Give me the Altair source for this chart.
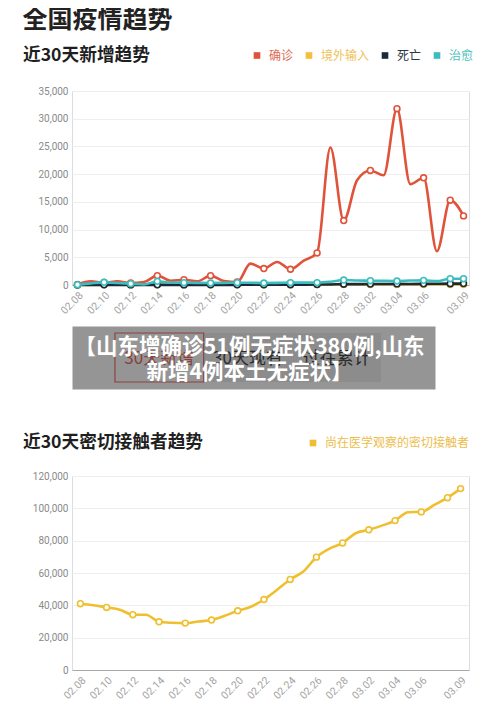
import altair as alt
import pandas as pd

main_title = "全国疫情趋势"
top_title = "近30天新增趋势"
bottom_title = "近30天密切接触者趋势"

dates = ["02.08", "02.09", "02.10", "02.11", "02.12", "02.13", "02.14", "02.15",
         "02.16", "02.17", "02.18", "02.19", "02.20", "02.21", "02.22", "02.23",
         "02.24", "02.25", "02.26", "02.27", "02.28", "03.01", "03.02", "03.03",
         "03.04", "03.05", "03.06", "03.07", "03.08", "03.09"]
tick_dates = ["02.08", "02.10", "02.12", "02.14", "02.16", "02.18", "02.20", "02.22",
              "02.24", "02.26", "02.28", "03.02", "03.04", "03.06", "03.09"]
marker_dates = ["02.08", "02.10", "02.12", "02.14", "02.16", "02.18", "02.20", "02.22",
                "02.24", "02.26", "02.28", "03.02", "03.04", "03.06", "03.08", "03.09"]

series_names = ["确诊", "境外输入", "死亡", "治愈"]
confirmed = [80, 660, 450, 660, 360, 540, 1690, 780, 960, 660, 1690, 720, 540, 3850, 2970,
             4160, 2840, 4400, 5780, 24800, 11630, 18900, 20660, 19800, 31800, 18200, 19340,
             6080, 15300, 12470]
imported = [20, 30, 30, 40, 30, 40, 50, 40, 40, 50, 40, 50, 60, 50, 60, 60, 50, 60, 70, 60,
            70, 80, 70, 80, 90, 80, 90, 100, 90, 100]
deaths = [0, 20, 30, 20, 20, 20, 30, 30, 20, 20, 30, 20, 30, 40, 40, 50, 50, 60, 80, 100,
          150, 160, 170, 180, 200, 190, 210, 220, 240, 250]
cured = [50, 300, 480, 350, 240, 100, 660, 450, 420, 380, 360, 380, 420, 400, 360, 380, 430,
         420, 430, 600, 900, 820, 780, 740, 720, 800, 840, 700, 1140, 1140]

contact_name = "尚在医学观察的密切接触者"
contacts = [41000, 40100, 38700, 37300, 34200, 34200, 29800, 29200, 29000, 30000, 30900,
            33500, 36600, 39100, 43600, 49600, 56000, 60900, 69800, 75100, 78600, 84600,
            86700, 89300, 92400, 97600, 97800, 102100, 106600, 112200]

tabs = ["30天新增", "30天现有", "过往累计"]
tab_active = [True, False, False]
banner_lines = ["【山东增确诊51例无症状380例,山东", "新增4例本土无症状】"]

# ---- styles ----
series_colors = ["#e0533b", "#f4bf3a", "#1b2a3a", "#3bbdbd"]
series_label_colors = ["#dc6a55", "#efc25a", "#2a3846", "#4fbfc0"]
contact_color = "#f0bf2f"
contact_label_color = "#ecbd4c"
CJK = "Noto Sans CJK SC"
X0 = 71          # page x of plot origin
W = 397
H = 194


def make_df(names, values_list):
    rows = []
    for name, vals in zip(names, values_list):
        for d, v in zip(dates, vals):
            rows.append({"date": d, "series": name, "value": v, "marker": d in marker_dates})
    return pd.DataFrame(rows)


def x_enc(pad):
    return alt.X("date:O", sort=dates,
                 scale=alt.Scale(type="point", domain=dates, padding=pad),
                 axis=alt.Axis(values=tick_dates, labelAngle=-45, title=None, ticks=False,
                               grid=False, domainColor="#a8a8a8", domainWidth=1,
                               labelColor="#a3a3a3", labelFontSize=10.5, labelFont="Roboto",
                               labelPadding=5, labelOverlap=False))


def y_enc(maxv, step):
    return alt.Y("value:Q", scale=alt.Scale(domain=[0, maxv], nice=False),
                 axis=alt.Axis(values=list(range(0, maxv + 1, step)), format=",d", title=None,
                               ticks=False, domain=False, gridColor="#eeeeee", gridWidth=1,
                               labelColor="#8a8a8a", labelFontSize=10, labelFont="Roboto",
                               labelPadding=4))


def legend_for(title, names, label_colors, title_padding, legend_y):
    expr = ("[" + ",".join("'%s'" % c for c in label_colors) + "][indexof(["
            + ",".join("'%s'" % n for n in names) + "], datum.value)]")
    return alt.Legend(orient="none", legendX=22 - X0, legendY=legend_y, direction="horizontal",
                      title=title, titleOrient="left", titleFontSize=17.7, titleFontWeight="bold",
                      titleColor="#1f1f1f", titleFont=CJK, titlePadding=title_padding,
                      titleAnchor="middle", titleBaseline="middle", titleLimit=400,
                      labelFontSize=12, labelFont=CJK, labelColor=alt.ExprRef(expr),
                      labelLimit=300, labelOffset=6, symbolType="square", symbolSize=44,
                      symbolStrokeWidth=0, columnPadding=9, padding=0, offset=0)


def line_chart(df, names, colors, legend, pad, maxv, step):
    cscale = alt.Scale(domain=names, range=colors)
    base = alt.Chart(df)
    layers = [base.transform_filter("false").mark_square(size=44, opacity=1).encode(
        x=x_enc(pad), y=y_enc(maxv, step),
        color=alt.Color("series:N", scale=cscale, legend=legend))]
    for name in names:
        sub = base.transform_filter(alt.datum.series == name)
        layers.append(sub.mark_line(interpolate="monotone", strokeWidth=2.6).encode(
            x=x_enc(pad), y=y_enc(maxv, step),
            color=alt.Color("series:N", scale=cscale, legend=None)))
        layers.append(sub.transform_filter(alt.datum.marker).mark_point(
            filled=False, fill="white", fillOpacity=1, opacity=1, size=34, strokeWidth=1.6).encode(
            x=x_enc(pad), y=y_enc(maxv, step),
            color=alt.Color("series:N", scale=cscale, legend=None)))
    return alt.layer(*layers).properties(width=W, height=H)


top_df = make_df(series_names, [confirmed, imported, deaths, cured])
top = line_chart(top_df, series_names, series_colors,
                 legend_for(top_title, series_names, series_label_colors, 101, -41.5),
                 0.41, 35000, 5000)

bottom_df = make_df([contact_name], [contacts])
bottom = line_chart(bottom_df, [contact_name], [contact_color],
                    legend_for(bottom_title, [contact_name], [contact_label_color], 103, -39),
                    0.64, 120000, 20000)

# ---- banner panel (tabs under a dark overlay + headline) ----
BW = 434 - X0
BH = 63
tab_df = pd.DataFrame({"tab": tabs, "row": ["tabs"] * len(tabs), "active": tab_active})
tab_x = alt.X("tab:N", sort=tabs,
              scale=alt.Scale(type="band", domain=tabs, paddingInner=0, paddingOuter=0.547,
                              align=0.443), axis=None)
tab_y = alt.Y("row:N", scale=alt.Scale(type="band", paddingInner=0, paddingOuter=0.143),
              axis=None)
tab_base = alt.Chart(tab_df)
tab_bg = tab_base.transform_filter("!datum.active").mark_rect(color="#8c8c8c").encode(
    x=tab_x, y=tab_y)
tab_box = tab_base.transform_filter("datum.active").mark_rect(
    fill="#959595", stroke="#8a4540", strokeWidth=1.2).encode(x=tab_x, y=tab_y)
tab_text = tab_base.mark_text(fontSize=17, font=CJK, dy=1).encode(
    x=tab_x, y=tab_y, text="tab:N",
    color=alt.condition("datum.active", alt.value("#8a3f3a"), alt.value("#2b2b2b")))
headline = alt.Chart(pd.DataFrame({"text": ["\n".join(banner_lines)]})).mark_text(
    lineBreak="\n", lineHeight=25, fontSize=21.5, fontWeight="bold", font=CJK, color="white",
    align="center", baseline="middle").encode(
    x=alt.value(BW / 2 - 4), y=alt.value(BH / 2 - 10), text="text:N")
banner = alt.layer(tab_bg, tab_box, tab_text, headline).properties(
    width=BW, height=BH,
    view=alt.ViewBackground(fill="#959595", stroke="transparent"),
    title=alt.Title(" ", orient="bottom", offset=28, fontSize=10))

chart = alt.vconcat(top, banner, bottom, spacing=8).resolve_scale(
    color="independent").properties(
    title=alt.Title(main_title, anchor="start", fontSize=25, fontWeight="bold",
                    color="#222222", font=CJK, offset=16),
    padding={"left": 14, "top": 0, "right": 6, "bottom": 0},
).configure_view(strokeWidth=0).configure(font=CJK)

chart.save("out.html", embed_options={"renderer": "svg", "actions": False})
